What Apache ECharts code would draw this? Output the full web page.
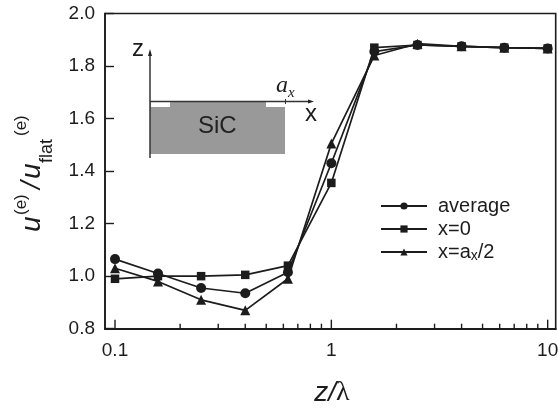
<!DOCTYPE html>
<html><head><meta charset="utf-8">
<style>html,body{margin:0;padding:0;background:#fff}#c{width:558px;height:410px}</style>
<script src="https://cdn.jsdelivr.net/npm/echarts@6/dist/echarts.min.js"></script>
</head><body><div id="c"></div>
<script>
const zValues = [0.1,0.158,0.25,0.4,0.63,1,1.58,2.5,4,6.3,10];
const average = [1.065,1.01,0.955,0.935,1.015,1.43,1.855,1.88,1.875,1.87,1.867];
const xZero = [0.99,1.0,1.0,1.005,1.04,1.355,1.87,1.88,1.875,1.87,1.867];
const xHalf = [1.03,0.98,0.91,0.87,0.99,1.505,1.84,1.885,1.875,1.87,1.867];
const majorTicks = [0.1,1,10];
const minorTicks = [0.2,0.3,0.4,0.5,0.6,0.7,0.8,0.9,2,3,4,5,6,7,8,9];
const ink = '#1c1c1c';
const font = 'Liberation Sans';
const chart = echarts.init(document.getElementById('c'));
function pairs(a){return zValues.map((z,i)=>[z,a[i]]);}
function lineSeries(name,data,symbol,size){
  return {name,type:'line',data:pairs(data),symbol,symbolSize:size,showSymbol:true,
    lineStyle:{color:ink,width:1.7},itemStyle:{color:ink},z:5,animation:false};
}
function tickSeries(){
  const ticks = majorTicks.map(v=>[v,1]).concat(minorTicks.map(v=>[v,0]));
  return {type:'custom',silent:true,animation:false,clip:false,data:ticks,z:6,
    encode:{x:0,y:1},
    renderItem(p,api){
      const v=api.value(0),maj=api.value(1);
      const o=api.coord([v,0.8]);
      const kids=[{type:'line',shape:{x1:o[0],y1:o[1],x2:o[0],y2:o[1]-(maj?9:5)},style:{stroke:ink,lineWidth:1.4}}];
      if(maj) kids.push({type:'text',style:{text:String(v),x:o[0],y:o[1]+13,align:'center',verticalAlign:'top',font:'19px '+font,fill:ink}});
      return {type:'group',children:kids};
    }};
}
function yPiece(text,at,size,style,drop){
  return {type:'text',style:{text,x:at,y:drop,font:style+' '+size+'px '+font,fill:ink,align:'left',verticalAlign:'bottom'}};
}
chart.setOption({
  animation:false,backgroundColor:'#fff',
  grid:{show:true,borderColor:ink,borderWidth:1.6,backgroundColor:'transparent',left:105,right:2.3,top:13.5,bottom:81.3,containLabel:false},
  xAxis:{type:'log',min:0.0899,max:10.89,logBase:10,
    axisLine:{show:true,onZero:false,lineStyle:{color:ink,width:2.2}},
    axisTick:{show:false},minorTick:{show:false},axisLabel:{show:false},splitLine:{show:false},minorSplitLine:{show:false}},
  yAxis:{type:'value',min:0.8,max:2.0,interval:0.2,
    axisLine:{show:true,onZero:false,lineStyle:{color:ink,width:1.6}},
    axisTick:{show:true,inside:true,length:9,lineStyle:{color:ink,width:1.4}},
    axisLabel:{color:ink,fontSize:19,fontFamily:font,margin:10,formatter:v=>v.toFixed(1)},
    splitLine:{show:false}},
  legend:{show:true,orient:'vertical',left:375,top:191,itemWidth:46,itemHeight:9,itemGap:3,
    selectedMode:false,
    textStyle:{color:ink,fontSize:20,fontFamily:font,padding:[0,0,0,6],
      rich:{sub:{fontSize:14,fontFamily:font,color:ink,padding:[9,0,0,0]},n:{fontSize:20,fontFamily:font,color:ink}}},
    formatter:n=>n==='x=a/2'?'{n|x=a}{sub|x}{n|/2}':n,
    data:['average','x=0','x=a/2']},
  series:[
    lineSeries('average',average,'circle',10),
    lineSeries('x=0',xZero,'rect',8.5),
    lineSeries('x=a/2',xHalf,'triangle',10),
    tickSeries()
  ],
  graphic:[
    {type:'rect',shape:{x:150,y:101,width:135,height:53},style:{fill:'#999999'},z:10},
    {type:'rect',shape:{x:151,y:102,width:19,height:5},style:{fill:'#fff'},z:11},
    {type:'rect',shape:{x:266,y:102,width:19,height:5},style:{fill:'#fff'},z:11},
    {type:'line',shape:{x1:150,y1:158,x2:150,y2:52},style:{stroke:'#333',lineWidth:1.5},z:12},
    {type:'polygon',shape:{points:[[150,49],[148,56],[152,56]]},style:{fill:'#222'},z:12},
    {type:'line',shape:{x1:150,y1:101.5,x2:310,y2:101.5},style:{stroke:'#333',lineWidth:1.5},z:12},
    {type:'polygon',shape:{points:[[314,101.5],[308,99.5],[308,103.5]]},style:{fill:'#222'},z:12},
    {type:'line',shape:{x1:285.5,y1:99,x2:285.5,y2:104},style:{stroke:'#333',lineWidth:1},z:12},
    {type:'text',style:{text:'z',x:132,y:37,font:'24px '+font,fill:ink},z:12},
    {type:'text',style:{text:'x',x:305,y:102,font:'24px '+font,fill:ink},z:12},
    {type:'text',style:{text:'SiC',x:198,y:114,font:'24px '+font,fill:'#222'},z:12},
    {type:'text',style:{text:'a',x:276,y:74,font:'italic 24px "Liberation Serif"',fill:ink},z:12},
    {type:'text',style:{text:'x',x:288,y:86,font:'italic 15px "Liberation Serif"',fill:ink},z:12},
    {type:'text',style:{text:'z/',x:336,y:379,font:'italic 28px '+font,fill:ink,align:'right',verticalAlign:'top'},z:12},
    {type:'text',style:{text:'\u03bb',x:336,y:379,font:'28px "Liberation Serif"',fill:ink},z:12},
    {type:'group',x:40,y:232,rotation:Math.PI/2,z:12,children:[
      yPiece('u',0,28,'italic',6),
      yPiece('(e)',17,17,'',-10),
      yPiece('/',43,28,'italic',6),
      yPiece('u',53,28,'italic',6),
      yPiece('flat',69,18,'',16),
      yPiece('(e)',96,17,'',-10)
    ]}
  ]
});
</script></body></html>
